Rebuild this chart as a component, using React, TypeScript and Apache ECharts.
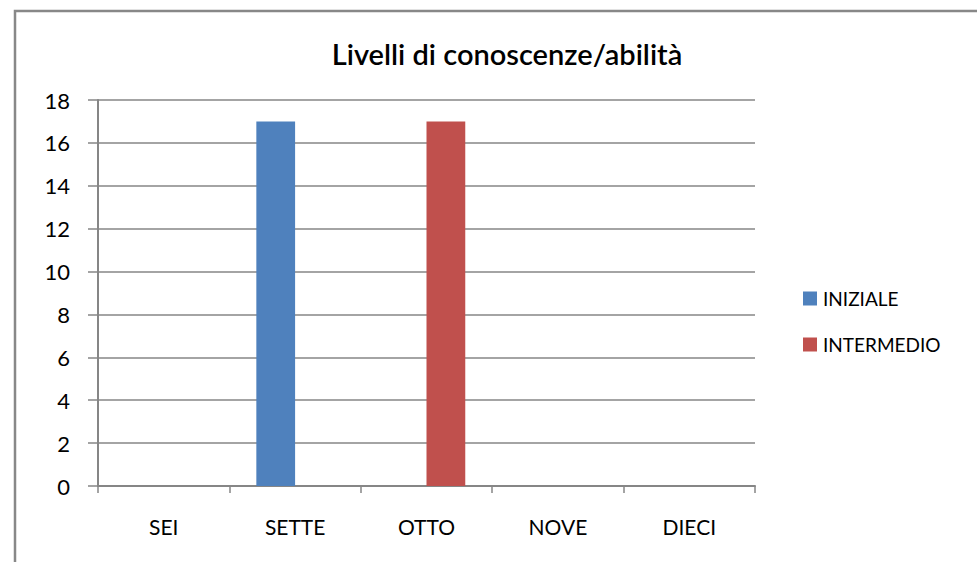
import React, { useEffect, useRef } from "react";
import * as echarts from "echarts";

const categories = ["SEI", "SETTE", "OTTO", "NOVE", "DIECI"];
const iniziale = [0, 17, 0, 0, 0];
const intermedio = [0, 0, 17, 0, 0];
const seriesNames = ["INIZIALE", "INTERMEDIO"];
const title = "Livelli di conoscenze/abilità";

const FONT = "Lato, 'Open Sans', sans-serif";

export default function App() {
  const ref = useRef<HTMLDivElement>(null);
  useEffect(() => {
    document.body.style.margin = "0";
    const chart = echarts.init(ref.current!, null, { renderer: "svg" });
    chart.setOption({
      animation: false,
      backgroundColor: "#ffffff",
      color: ["#4F81BD", "#C0504D"],
      title: {
        text: title,
        left: 502,
        textAlign: "center",
        top: 34,
        textStyle: { fontFamily: FONT, fontSize: 29, fontWeight: 600, color: "#000" },
      },
      legend: {
        orient: "vertical",
        left: 798,
        top: 284,
        itemWidth: 14,
        itemHeight: 14,
        itemGap: 27,
        icon: "rect",
        textStyle: { fontFamily: FONT, fontSize: 19, color: "#000", padding: [0, 0, 0, 1] },
        data: seriesNames,
      },
      graphic: [
        {
          type: "rect",
          shape: { x: 15, y: 11, width: 1100, height: 700 },
          style: { fill: "none", stroke: "#888888", lineWidth: 2.5 },
          silent: true,
        },
      ],
      grid: { left: 98, right: 222, top: 100, bottom: 76 },
      xAxis: {
        type: "category",
        data: categories,
        axisLine: { lineStyle: { color: "#868686", width: 2 } },
        axisTick: { show: true, length: 7, lineStyle: { color: "#868686", width: 1.5 } },
        axisLabel: { fontFamily: FONT, fontSize: 21, color: "#000", margin: 30 },
      },
      yAxis: {
        type: "value",
        min: 0,
        max: 18,
        interval: 2,
        axisLine: { show: true, lineStyle: { color: "#868686", width: 2 } },
        axisTick: { show: true, length: 10, lineStyle: { color: "#868686", width: 1.5 } },
        splitLine: { lineStyle: { color: "#868686", width: 1.5 } },
        axisLabel: { fontFamily: FONT, fontSize: 22, color: "#000", margin: 28 },
      },
      series: [
        {
          name: seriesNames[0],
          type: "bar",
          data: iniziale,
          barGap: "0%",
          barCategoryGap: "41%",
        },
        {
          name: seriesNames[1],
          type: "bar",
          data: intermedio,
          barGap: "0%",
          barCategoryGap: "41%",
        },
      ],
    });
    return () => chart.dispose();
  }, []);
  return <div ref={ref} style={{ width: 977, height: 562 }} />;
}
